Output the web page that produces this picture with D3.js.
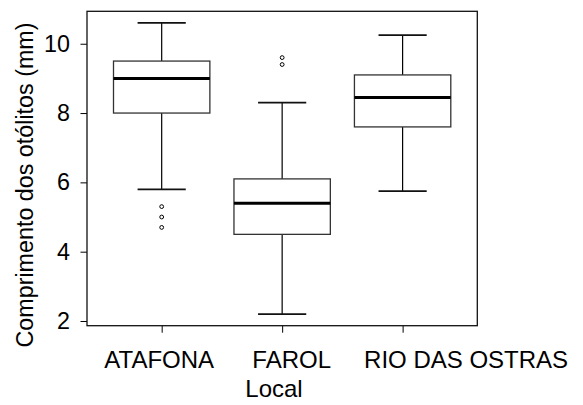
<!DOCTYPE html>
<html>
<head>
<meta charset="utf-8">
<script src="https://cdn.jsdelivr.net/npm/d3@7"></script>
<style>
  html, body { margin: 0; padding: 0; background: #fff; }
  svg { display: block; }
  text { font-family: "Liberation Sans", Arial, Helvetica, sans-serif; fill: #000; }
</style>
</head>
<body>
<svg id="chart" width="583" height="405"></svg>
<script>
// Otolith length by sampling site (boxplot summaries, mm)
const locais   = ["ATAFONA", "FAROL", "RIO DAS OSTRAS"];
const minimo   = [5.8, 2.2, 5.75];
const q1       = [8.0, 4.5, 7.6];
const mediana  = [9.0, 5.4, 8.45];
const q3       = [9.5, 6.1, 9.1];
const maximo   = [10.6, 8.3, 10.25];
const outliers = [[5.3, 5.0, 4.7], [9.6, 9.4], []];
const yTicks   = [2, 4, 6, 8, 10];

const svg = d3.select("#chart");

// plotting region
const plot = { left: 87, right: 477.3, top: 11.3, bottom: 325.7 };
const fontSize = 23.3;
const catFontSize = 24;

const x = d3.scaleLinear().domain([0.38, 3.62]).range([plot.left, plot.right]);
const y = d3.scaleLinear().domain([1.864, 10.936]).range([plot.bottom, plot.top]);

const boxWidth = x(1.4) - x(1.0);     // half-width of 0.4 units
const capHalf  = boxWidth / 2;

// horizontal nudges applied to the category labels
const labelShift = [-3, 9, 63];

// y axis
const yAxis = svg.append("g")
  .attr("transform", `translate(${plot.left},0)`)
  .call(d3.axisLeft(y).tickValues(yTicks).tickSize(6.5).tickPadding(10.5).tickFormat(d3.format("d")));
yAxis.select(".domain").remove();
yAxis.selectAll(".tick line").attr("stroke", "#000");
yAxis.selectAll(".tick text")
  .style("font-size", fontSize + "px")
  .style("font-family", "'Liberation Sans', Arial, sans-serif")
  .attr("fill", "#000");

// x axis
const xAxis = svg.append("g")
  .attr("transform", `translate(0,${plot.bottom})`)
  .call(d3.axisBottom(x).tickValues([1, 2, 3]).tickSize(7).tickFormat((d, i) => locais[i]));
xAxis.select(".domain").remove();
xAxis.selectAll(".tick line").attr("stroke", "#000");
xAxis.selectAll(".tick text")
  .style("font-size", catFontSize + "px")
  .style("font-family", "'Liberation Sans', Arial, sans-serif")
  .attr("fill", "#000")
  .attr("dy", 0)
  .attr("y", 42.5)
  .attr("x", (d, i) => labelShift[i]);

// boxes
const g = svg.append("g");
locais.forEach((loc, i) => {
  const cx = x(i + 1);
  // whiskers
  g.append("line")
    .attr("x1", cx).attr("x2", cx)
    .attr("y1", y(q3[i])).attr("y2", y(maximo[i]))
    .attr("stroke", "#000").attr("stroke-width", 1.2);
  g.append("line")
    .attr("x1", cx).attr("x2", cx)
    .attr("y1", y(q1[i])).attr("y2", y(minimo[i]))
    .attr("stroke", "#000").attr("stroke-width", 1.2);
  // staples
  [maximo[i], minimo[i]].forEach(v => {
    g.append("line")
      .attr("x1", cx - capHalf).attr("x2", cx + capHalf)
      .attr("y1", y(v)).attr("y2", y(v))
      .attr("stroke", "#111").attr("stroke-width", 1.8);
  });
  // box
  g.append("rect")
    .attr("x", cx - boxWidth).attr("width", 2 * boxWidth)
    .attr("y", y(q3[i])).attr("height", y(q1[i]) - y(q3[i]))
    .attr("fill", "#fff").attr("stroke", "#333").attr("stroke-width", 1.3);
  // median
  g.append("line")
    .attr("x1", cx - boxWidth).attr("x2", cx + boxWidth)
    .attr("y1", y(mediana[i])).attr("y2", y(mediana[i]))
    .attr("stroke", "#000").attr("stroke-width", 3);
  // outliers
  g.selectAll(null).data(outliers[i]).enter().append("circle")
    .attr("cx", cx).attr("cy", d => y(d)).attr("r", 1.9)
    .attr("fill", "none").attr("stroke", "#000").attr("stroke-width", 1);
});

// plot frame
svg.append("rect")
  .attr("x", plot.left).attr("y", plot.top)
  .attr("width", plot.right - plot.left).attr("height", plot.bottom - plot.top)
  .attr("fill", "none").attr("stroke", "#111").attr("stroke-width", 1.3);

// axis titles
svg.append("text")
  .attr("x", 274).attr("y", 396.7)
  .attr("text-anchor", "middle")
  .style("font-size", catFontSize + "px")
  .text("Local");

svg.append("text")
  .attr("transform", "translate(33,185) rotate(-90)")
  .attr("text-anchor", "middle")
  .style("font-size", fontSize + "px")
  .text("Comprimento dos otólitos (mm)");
</script>
</body>
</html>
